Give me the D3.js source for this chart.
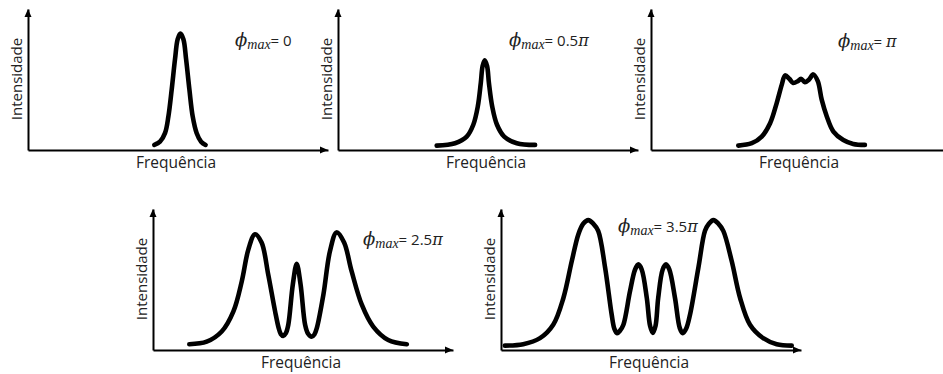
<!DOCTYPE html>
<html>
<head>
<meta charset="utf-8">
<script src="https://cdn.jsdelivr.net/npm/d3@7"></script>
<style>
  html, body { margin: 0; background: #fff; }
  svg { display: block; }
</style>
</head>
<body>
<svg id="chart" width="943" height="374"></svg>
<script>
// Spectra as [frequency, intensity] pairs, both on a 0–100 axis scale
const spectrumPhi0 = [
  [42.1, 3.6], [44.0, 5.9], [45.7, 12.1], [46.8, 23.8], [47.9, 42.9], [49.0, 64.3],
  [49.9, 78.6], [50.8, 82.6], [51.8, 78.6], [52.7, 64.3], [53.8, 42.9], [54.9, 23.8],
  [56.2, 12.1], [57.7, 5.9], [59.2, 3.6]
];
const spectrumPhi05 = [
  [32.9, 3.1], [39.0, 4.8], [42.9, 9.5], [45.1, 17.9], [46.6, 30.9], [47.6, 47.6],
  [48.2, 59.5], [48.9, 63.6], [49.7, 59.5], [50.3, 47.6], [51.4, 30.9], [53.0, 17.9],
  [55.4, 9.5], [59.6, 4.8], [65.7, 3.6]
];
const spectrumPhi1 = [
  [29.1, 3.1], [33.6, 4.8], [36.9, 9.5], [39.7, 19.0], [41.9, 33.3], [43.6, 46.4],
  [44.7, 52.9], [46.1, 50.5], [47.4, 47.6], [48.9, 48.8], [50.0, 50.5], [51.3, 48.1],
  [52.7, 50.0], [54.1, 53.6], [55.6, 48.8], [56.9, 35.7], [58.6, 23.8], [60.8, 13.1],
  [64.1, 7.1], [67.4, 4.3], [71.3, 3.6]
];
const spectrumPhi25 = [
  [12.1, 4.1], [17.9, 5.9], [22.9, 13.1], [26.8, 27.4], [29.6, 48.8], [31.8, 71.4],
  [34.0, 82.1], [36.2, 76.2], [38.4, 53.6], [40.7, 27.4], [41.9, 15.5], [42.6, 11.3],
  [43.4, 10.0], [44.3, 12.0], [45.1, 17.9], [46.6, 46.4], [47.9, 61.2], [49.2, 46.4],
  [50.7, 17.9], [51.7, 11.5], [52.9, 9.4], [53.8, 11.0], [54.6, 15.5], [56.8, 39.3],
  [59.0, 70.2], [61.2, 83.4], [63.7, 76.2], [66.2, 55.9], [69.6, 32.1], [73.4, 16.6],
  [78.4, 7.1], [84.6, 4.1]
];
const spectrumPhi35 = [
  [1.3, 3.1], [7.4, 4.1], [13.0, 8.4], [17.4, 17.9], [20.8, 36.9], [23.6, 63.1],
  [25.8, 82.1], [27.4, 89.5], [29.1, 92.1], [30.8, 89.5], [32.4, 84.5], [34.7, 58.4],
  [36.9, 25.0], [37.8, 15.0], [38.7, 11.9], [39.7, 13.8], [40.8, 17.9], [43.0, 41.6],
  [44.7, 57.1], [45.8, 60.7], [46.9, 57.1], [48.6, 36.9], [49.7, 17.0], [50.6, 12.1],
  [51.5, 17.0], [52.4, 36.9], [53.9, 57.1], [55.0, 60.7], [56.1, 57.1], [58.0, 36.9],
  [59.6, 15.5], [60.6, 11.9], [61.7, 15.0], [63.0, 25.0], [65.8, 58.4], [68.0, 84.5],
  [69.3, 89.5], [70.8, 92.1], [72.5, 89.5], [74.1, 84.5], [76.9, 63.1], [79.7, 36.9],
  [83.0, 17.9], [87.4, 8.4], [91.9, 4.1], [96.9, 3.1]
];

const phaseLabels = ["0", "0.5π", "π", "2.5π", "3.5π"];
const xTitle = "Frequência";
const yTitle = "Intensidade";

const spectra = [spectrumPhi0, spectrumPhi05, spectrumPhi1, spectrumPhi25, spectrumPhi35];

// Panel placement: axis origin plus offset of the phase label
const layout = [
  { x: 28,  y: 150, lx: 207, ly: -104 },
  { x: 338, y: 150, lx: 171, ly: -104 },
  { x: 651, y: 150, lx: 187, ly: -103 },
  { x: 153, y: 350, lx: 210, ly: -105 },
  { x: 501, y: 350, lx: 117, ly: -118 }
];
const axisW = 300, axisH = 141;

const svg = d3.select("#chart");
const sans = "'Open Sans', 'Noto Sans', sans-serif";
const mathFont = "'DejaVu Serif', serif";

layout.forEach((p, i) => {
  const x = d3.scaleLinear().domain([0, 100]).range([p.x, p.x + axisW]);
  const y = d3.scaleLinear().domain([0, 100]).range([p.y, p.y - axisH]);
  const g = svg.append("g");

  // axes without ticks, each ending in an arrowhead
  const xa = g.append("g").attr("transform", `translate(0,${p.y})`)
    .call(d3.axisBottom(x).tickValues([]).tickSizeOuter(0));
  const ya = g.append("g").attr("transform", `translate(${p.x},0)`)
    .call(d3.axisLeft(y).tickValues([]).tickSizeOuter(0));
  [xa, ya].forEach(a => a.select(".domain")
    .attr("stroke", "#000").attr("stroke-width", 2));

  const xe = x.range()[1], ye = y.range()[1];
  g.append("path")
    .attr("d", `M${xe - 8},${p.y - 3.5}L${xe},${p.y}L${xe - 8},${p.y + 3.5}Z`)
    .attr("fill", "#000");
  g.append("path")
    .attr("d", `M${p.x - 3.5},${ye + 8}L${p.x},${ye}L${p.x + 3.5},${ye + 8}Z`)
    .attr("fill", "#000");

  // spectrum
  const line = d3.line()
    .x(d => x(d[0])).y(d => y(d[1]))
    .curve(d3.curveCatmullRom.alpha(0.5));
  g.append("path")
    .datum(spectra[i])
    .attr("d", line)
    .attr("fill", "none")
    .attr("stroke", "#000")
    .attr("stroke-width", 4.6)
    .attr("stroke-linecap", "round")
    .attr("stroke-linejoin", "round");

  // axis titles
  g.append("text")
    .attr("x", p.x + 148).attr("y", p.y + 18)
    .attr("text-anchor", "middle")
    .attr("font-family", sans).attr("font-size", 15.5)
    .attr("fill", "#222")
    .text(xTitle);
  g.append("text")
    .attr("transform", `translate(${p.x - 11},${p.y - 71}) rotate(-90)`)
    .attr("text-anchor", "middle").attr("dy", "0.36em")
    .attr("font-family", sans).attr("font-size", 15)
    .attr("fill", "#222")
    .text(yTitle);

  // phase label: ϕ_max = value
  const lab = g.append("text")
    .attr("x", p.x + p.lx).attr("y", p.y + p.ly)
    .attr("fill", "#222");
  lab.append("tspan").attr("font-family", mathFont).attr("font-style", "italic")
    .attr("font-size", 18).text("ϕ");
  lab.append("tspan").attr("font-family", "'Liberation Serif', serif").attr("font-style", "italic")
    .attr("font-size", 14).attr("dy", 3).text("max");
  const v = phaseLabels[i];
  const num = v.replace("π", "");
  lab.append("tspan").attr("font-family", sans).attr("font-size", 15)
    .attr("dy", -3).text("= " + num);
  if (v.endsWith("π")) {
    lab.append("tspan").attr("font-family", mathFont).attr("font-style", "italic")
      .attr("font-size", 16).text("π");
  }
});
</script>
</body>
</html>
